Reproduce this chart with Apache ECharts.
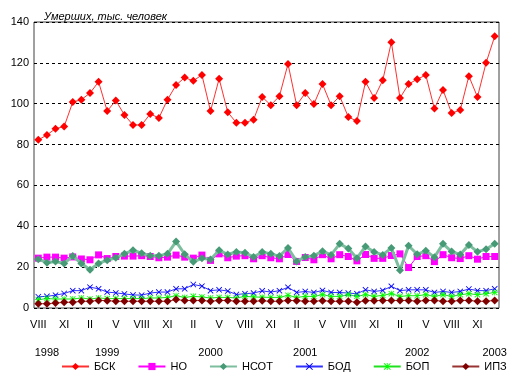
<!DOCTYPE html>
<html><head><meta charset="utf-8">
<script src="https://cdn.jsdelivr.net/npm/echarts@6/dist/echarts.min.js"></script>
<style>html,body{margin:0;padding:0;background:#fff}#c{width:514px;height:378px}</style>
</head><body><div id="c"></div>
<script>
var romanMonths = ['I','II','III','IV','V','VI','VII','VIII','IX','X','XI','XII'];
var startMonth = 7; // August 1998
var years = ['1998','1999','2000','2001','2002','2003'];
var yearSlots = [1, 8, 20, 31, 44, 53];
var bsk = [82.3,84.7,87.8,88.8,100.8,102,105.2,110.7,96.4,101.6,94.5,89.6,89.6,95.0,93.0,102,109.1,112.8,111.2,114.1,96.4,112.2,95.8,90.7,90.7,92.2,103.3,99.3,103.7,119.5,99.3,105.2,99.8,109.6,99.3,103.7,93.5,91.5,110.7,102.8,111.5,130.1,102.8,109.6,112.0,114.0,97.6,106.7,95.4,96.9,113.5,103.3,120,133.0];
var no = [24.4,24.9,24.9,24.4,25.0,24.0,23.6,26.0,24.2,25.2,25.4,25.4,25.6,25.2,24.6,24.9,25.9,24.9,24.4,25.9,23.3,26.5,24.6,25.4,25.6,24.1,25.6,24.6,24.1,26.2,22.8,24.7,23.6,26.1,24.1,26.1,25.2,23.1,26.2,24.3,24.3,25.7,26.5,19.8,25.2,25.6,22.7,26.1,24.6,24.2,25.6,23.9,25.2,25.2];
var nsot = [23.9,22.2,22.8,21.8,25.4,21.8,18.7,21.8,23.4,24.6,26.5,28.3,26.8,25.6,25.6,26.5,32.5,26.3,22.6,24.3,23.7,28.3,26.2,27.4,27.0,25.0,27.4,26.5,25.4,29.4,22.8,25.0,25.6,27.8,26.0,31.4,29.1,24.4,30.1,27.4,26.0,29.4,18.5,30.5,26.3,28.0,24.9,31.4,27.6,26.2,30.9,27.5,28.8,31.5];
var bod = [5.5,5.7,6.3,7.1,8.5,8.5,10.2,9.4,7.8,7.4,6.9,6.4,6.3,7.3,7.8,7.8,9.4,9.4,11.5,10.7,8.5,8.9,8.3,6.6,7.0,7.3,8.4,7.8,8.5,10.1,7.6,8.1,7.6,8.6,7.6,7.6,7.3,7.0,8.9,8.1,8.6,10.6,8.5,8.9,8.9,8.9,7.6,8.1,7.6,8.1,9.3,8.5,8.5,9.4];
var bop = [4.1,4.6,4.4,4.4,4.4,4.9,4.4,4.9,4.6,4.6,4.6,4.6,4.6,4.9,4.9,5.2,6.0,5.2,5.7,5.4,4.9,5.2,5.2,4.9,5.7,5.4,5.3,5.2,5.2,6.2,5.2,5.7,5.7,6.5,5.7,5.7,6.5,5.7,6.5,5.7,6.2,7.0,5.7,6.0,6.0,6.5,5.7,6.5,5.7,6.5,7.0,6.5,7.0,7.6];
var ipz = [2.1,2.1,2.4,2.8,2.8,3.3,3.3,3.7,3.6,3.3,3.3,3.3,3.3,3.3,3.3,3.3,4.1,3.7,3.7,3.7,3.3,3.7,3.7,3.3,3.3,3.3,3.5,3.3,3.3,3.7,3.6,3.3,3.3,3.6,3.3,3.3,3.3,2.8,3.6,3.6,3.7,3.7,3.7,3.7,3.3,3.7,3.7,3.3,3.3,3.7,3.7,3.3,3.3,3.7];

var n = bsk.length;
var categories = [];
var yearCats = [];
for (var i = 0; i < n; i++) {
  categories.push(romanMonths[(startMonth + i) % 12]);
  var yi = yearSlots.indexOf(i);
  yearCats.push(yi >= 0 ? years[yi] : '');
}
var xSym = 'path://M0,1L1,0L5,4L9,0L10,1L6,5L10,9L9,10L5,6L1,10L0,9L4,5Z';
var starSym = 'path://M0,1L1,0L5,4L9,0L10,1L6,5L10,9L9,10L5,6L1,10L0,9L4,5Z M4.4,0H5.6V10H4.4Z M0,4.4H10V5.6H0Z';
var font = 'Arial, "Liberation Sans", sans-serif';

function ser(name, data, color, lineColor, symbol, size, width, z) {
  return {
    name: name, type: 'line', data: data, symbol: symbol, symbolSize: size,
    showSymbol: true, showAllSymbol: true, z: z,
    lineStyle: {color: lineColor, width: width},
    itemStyle: {color: color, borderWidth: 0},
    emphasis: {disabled: true}
  };
}

var chart = echarts.init(document.getElementById('c'), null, {renderer: 'canvas'});
chart.setOption({
  animation: false,
  backgroundColor: '#fff',
  textStyle: {fontFamily: font, fontSize: 11, color: '#000'},
  title: {
    text: 'Умерших, тыс. человек', left: 39, top: 6,
    textStyle: {fontFamily: font, fontSize: 11, fontStyle: 'italic', fontWeight: 'normal', color: '#000'}
  },
  grid: {left: 34, right: 15, top: 22, bottom: 70, show: true, borderColor: '#404040', borderWidth: 1, backgroundColor: 'transparent'},
  legend: {
    left: 56, top: 356, itemWidth: 27, itemHeight: 9, itemGap: 22,
    textStyle: {fontFamily: font, fontSize: 11, color: '#000'},
    data: ['БСК','НО','НСОТ','БОД','БОП','ИПЗ']
  },
  xAxis: [{
    type: 'category', data: categories, boundaryGap: true,
    axisLine: {show: false}, axisTick: {show: false},
    axisLabel: {interval: 2, margin: 11, fontFamily: font, fontSize: 11, color: '#000'},
    splitLine: {show: false}
  }, {
    type: 'category', data: yearCats, boundaryGap: true, position: 'bottom', offset: 28,
    axisLine: {show: false}, axisTick: {show: false},
    axisLabel: {interval: 0, margin: 11, fontFamily: font, fontSize: 11, color: '#000'},
    splitLine: {show: false}
  }],
  yAxis: {
    type: 'value', min: 0, max: 140, interval: 20,
    axisLine: {show: false}, axisTick: {show: false},
    axisLabel: {margin: 5, fontFamily: font, fontSize: 11, color: '#000'},
    splitLine: {show: true, lineStyle: {color: '#000', type: [3, 3], width: 1}}
  },
  series: [
    ser('БСК', bsk, '#FF0000', '#FF3030', 'diamond', 8, 1, 6),
    ser('НО', no, '#FF00FF', '#FF00FF', 'rect', 7, 1, 3),
    ser('НСОТ', nsot, '#469A76', '#7DBE9F', 'diamond', 8, 3, 4),
    ser('БОД', bod, '#0000FF', '#3030FF', xSym, 6, 1, 5),
    ser('БОП', bop, '#00FF00', '#20E020', starSym, 6, 1, 5),
    ser('ИПЗ', ipz, '#800000', '#993333', 'diamond', 8, 1, 6)
  ]
});
</script>
</body></html>
